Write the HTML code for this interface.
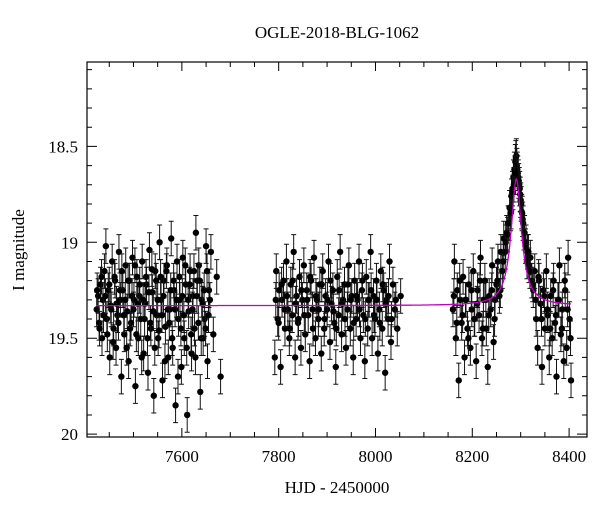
<!DOCTYPE html>
<html><head><meta charset="utf-8"><style>
html,body{margin:0;padding:0;background:#fff;}
svg text{font-family:"Liberation Serif",serif;fill:#000;}
</style></head><body>
<svg id="chart" width="600" height="512" viewBox="0 0 600 512" xmlns="http://www.w3.org/2000/svg">
<text x="337" y="38" font-size="17" text-anchor="middle">OGLE-2018-BLG-1062</text>
<text x="337" y="493" font-size="17" text-anchor="middle">HJD - 2450000</text>
<text transform="translate(24,250) rotate(-90)" font-size="17" text-anchor="middle">I magnitude</text>
<g id="marks"></g>
<rect x="87" y="62" width="500" height="375" fill="none" stroke="#000" stroke-width="1.2"/>
<g id="axes"></g>
</svg>
<script>
const xTicks=[7600,7800,8000,8200,8400];
const yTicks=[18.5,19,19.5,20];
const yTickLabels=["18.5","19","19.5","20"];
const season1T=[7424,7427,7429,7432,7435,7437,7440,7443,7445,7448,7451,7453,7456,7459,7462,7464,7467,7470,7473,7475,7478,7481,7484,7487,7490,7492,7495,7498,7501,7504,7507,7510,7512,7515,7518,7521,7524,7527,7530,7533,7536,7539,7542,7545,7548,7551,7554,7557,7560,7563,7566,7569,7572,7575,7578,7581,7584,7587,7590,7593,7596,7599,7602,7605,7608,7611,7614,7617,7620,7623,7626,7629,7632,7635,7638,7641,7644,7647,7650,7653,7656,7660,7665,7672,7680];
const season1M=[19.35,19.28,19.42,19.22,19.5,19.3,19.15,19.02,19.4,19.25,19.6,19.33,19.1,19.45,19.2,19.55,19.38,19.05,19.3,19.7,19.25,19.48,19.12,19.36,19.62,19.2,19.42,19.08,19.3,19.75,19.18,19.5,19.28,19.4,19.1,19.58,19.32,19.22,19.68,19.04,19.45,19.26,19.8,19.15,19.38,19.5,19.0,19.3,19.72,19.2,19.44,19.12,19.6,19.35,18.98,19.55,19.25,19.85,19.1,19.4,19.3,19.65,19.08,19.5,19.22,19.9,19.36,19.15,19.58,19.28,19.45,18.95,19.2,19.12,19.78,19.3,19.5,19.4,19.02,19.62,19.25,19.05,19.48,19.18,19.7];
const season1T2=[7425,7430,7434,7438,7442,7446,7450,7454,7458,7461,7465,7469,7472,7476,7480,7483,7486,7489,7493,7497,7500,7503,7506,7509,7513,7517,7520,7523,7526,7529,7532,7535,7538,7541,7544,7547,7550,7553,7556,7559,7562,7565,7568,7571,7574,7577,7580,7583,7586,7589,7592,7595,7598,7601,7604,7607,7610,7613,7616,7619,7622,7625,7628,7631,7634,7637,7640,7643,7646,7649,7652,7655,7658];
const season1M2=[19.25,19.45,19.18,19.38,19.28,19.48,19.22,19.35,19.52,19.18,19.32,19.42,19.25,19.15,19.38,19.3,19.55,19.2,19.45,19.28,19.35,19.12,19.48,19.32,19.22,19.6,19.3,19.4,19.18,19.5,19.26,19.42,19.14,19.36,19.55,19.2,19.3,19.46,19.18,19.38,19.28,19.62,19.15,19.35,19.42,19.25,19.5,19.2,19.35,19.3,19.7,19.18,19.45,19.28,19.38,19.12,19.55,19.3,19.22,19.48,19.35,19.15,19.6,19.28,19.42,19.2,19.5,19.32,19.25,19.45,19.15,19.38,19.3];
const season2T=[7792,7795,7798,7801,7804,7807,7810,7813,7816,7819,7822,7825,7828,7831,7834,7837,7840,7843,7846,7849,7852,7855,7858,7861,7864,7867,7870,7873,7876,7879,7882,7885,7888,7891,7894,7897,7900,7903,7906,7909,7912,7915,7918,7921,7924,7927,7930,7933,7936,7939,7942,7945,7948,7951,7954,7957,7960,7963,7966,7969,7972,7975,7978,7981,7984,7987,7990,7993,7996,7999,8002,8005,8008,8011,8014,8017,8020,8023,8026,8029,8032,8036,8040,8045,8052];
const season2M=[19.6,19.15,19.4,19.25,19.65,19.3,19.2,19.45,19.1,19.35,19.5,19.22,19.38,19.05,19.6,19.28,19.42,19.18,19.55,19.3,19.12,19.48,19.25,19.38,19.62,19.2,19.35,19.08,19.5,19.3,19.4,19.22,19.58,19.15,19.45,19.28,19.35,19.1,19.52,19.32,19.25,19.42,19.65,19.18,19.38,19.05,19.48,19.3,19.22,19.55,19.35,19.12,19.45,19.28,19.6,19.2,19.4,19.3,19.1,19.5,19.25,19.38,19.62,19.18,19.45,19.3,19.05,19.5,19.28,19.4,19.2,19.58,19.35,19.15,19.45,19.25,19.68,19.3,19.4,19.1,19.52,19.22,19.35,19.45,19.28];
const season2T2=[7794,7800,7806,7812,7817,7823,7829,7835,7841,7847,7853,7859,7865,7871,7877,7883,7889,7895,7901,7907,7913,7919,7925,7931,7937,7943,7949,7955,7961,7967,7973,7979,7985,7991,7997,8003,8009,8015,8021,8027,8033,8042];
const season2M2=[19.3,19.42,19.22,19.35,19.28,19.45,19.2,19.32,19.4,19.25,19.38,19.3,19.18,19.45,19.28,19.35,19.22,19.4,19.3,19.2,19.36,19.45,19.25,19.32,19.4,19.22,19.3,19.42,19.28,19.35,19.2,19.4,19.3,19.25,19.38,19.3,19.42,19.22,19.32,19.28,19.4,19.3];
const season3T=[8160,8163,8166,8169,8172,8175,8178,8181,8184,8187,8190,8193,8196,8199,8202,8205,8208,8211,8214,8217,8220,8223,8226,8229,8232,8235,8238,8241,8244,8247,8250,8253,8256,8259,8262,8265,8268,8271,8274,8277,8279,8281,8283,8285,8287,8289,8290,8291,8292,8293,8295,8297,8299,8301,8303,8305,8308,8311,8314,8317,8320,8323,8326,8329,8332,8335,8338,8341,8344,8347,8350,8353,8356,8359,8362,8365,8368,8371,8374,8377,8380,8383,8386,8389,8392,8395,8398,8401,8404];
const season3M=[19.35,19.1,19.5,19.25,19.72,19.3,19.42,19.18,19.6,19.3,19.45,19.22,19.55,19.35,19.15,19.4,19.62,19.25,19.38,19.08,19.5,19.3,19.2,19.45,19.65,19.28,19.35,19.12,19.52,19.3,19.22,19.1,19.28,19.05,19.15,18.98,19.05,18.95,18.9,18.82,18.85,18.76,18.72,18.66,18.62,18.58,18.56,18.55,18.6,18.62,18.66,18.7,18.75,18.8,18.85,18.9,18.95,19.0,19.05,19.12,19.08,19.2,19.25,19.15,19.4,19.55,19.2,19.32,19.65,19.25,19.45,19.15,19.38,19.6,19.28,19.5,19.2,19.42,19.7,19.3,19.12,19.48,19.35,19.62,19.25,19.55,19.08,19.4,19.72];
const season3T2=[8162,8168,8174,8180,8186,8192,8198,8204,8210,8216,8222,8228,8234,8240,8246,8252,8258,8264,8269,8273,8276,8280,8284,8286,8288,8294,8296,8298,8300,8302,8304,8307,8310,8313,8316,8319,8325,8331,8337,8343,8349,8355,8361,8367,8373,8379,8385,8391,8397,8403];
const season3M2=[19.28,19.42,19.2,19.38,19.3,19.5,19.25,19.4,19.32,19.2,19.45,19.3,19.38,19.25,19.4,19.2,19.25,19.1,19.0,18.96,18.9,18.84,18.74,18.7,18.64,18.64,18.68,18.72,18.78,18.84,18.88,18.95,19.02,19.1,19.05,19.15,19.22,19.3,19.18,19.4,19.28,19.35,19.45,19.25,19.38,19.3,19.45,19.2,19.35,19.5];
const errorSize=0.09;
const fitBase=19.33, fitPeakT=8291, fitPeakM=18.67, fitTE=13;

const X0=7404,X1=8437,Y0=18.06,Y1=20.015;
const L=87,R=587,T=62,B=437;
const xs=t=>L+(t-X0)/(X1-X0)*(R-L);
const ys=m=>T+(m-Y0)/(Y1-Y0)*(B-T);
const NS="http://www.w3.org/2000/svg";
const marks=document.getElementById('marks');
const axes=document.getElementById('axes');
function mk(tag,attrs,parent){const e=document.createElementNS(NS,tag);for(const k in attrs)e.setAttribute(k,attrs[k]);parent.appendChild(e);return e;}

function model(t){const u=(t-fitPeakT)/fitTE;return fitBase-(fitBase-fitPeakM)/(1+u*u);}
let d="";
for(let t=7424;t<=8404;t+=1){d+=(t===7424?"M":"L")+xs(t).toFixed(1)+","+ys(model(t)).toFixed(1);}
const fitLine=mk('path',{d:d,fill:'none',stroke:'#c000c0','stroke-width':1.3},marks);



function drawSeason(T_,M_,name){
  const g=mk('g',{},marks);
  
  
  for(let i=0;i<T_.length;i++){
    const x=xs(T_[i]),y=ys(M_[i]),e=Math.abs(ys(M_[i]+errorSize)-y);
    const eb=mk('path',{d:`M${x},${y-e}V${y+e}M${x-2.5},${y-e}H${x+2.5}M${x-2.5},${y+e}H${x+2.5}`,stroke:'#111','stroke-width':1},g);
    
    
    const c=mk('circle',{cx:x,cy:y,r:3.2,fill:'#000'},g);
    
    
  }
}
drawSeason(season1T,season1M,'season-2016-points');
drawSeason(season1T2,season1M2,'season-2016-points-b');
drawSeason(season2T,season2M,'season-2017-points');
drawSeason(season2T2,season2M2,'season-2017-points-b');
drawSeason(season3T,season3M,'season-2018-points');
drawSeason(season3T2,season3M2,'season-2018-points-b');
marks.appendChild(fitLine);

for(let v=7450;v<=8400;v+=50){
  const x=xs(v),maj=v%200===0,len=maj?9:5;
  const tk=mk('path',{d:`M${x},${B}V${B-len}M${x},${T}V${T+len}`,stroke:'#000','stroke-width':1},axes);
  
  
}
xTicks.forEach(v=>{
  const t=mk('text',{x:xs(v),y:B+25,'font-size':17,'text-anchor':'middle'},axes);
  t.textContent=String(v);
  
  
});
for(let k=181;k<=200;k++){
  const v=k/10,y=ys(v),maj=(k%5===0),len=maj?10:5;
  const tk=mk('path',{d:`M${L},${y}H${L+len}M${R},${y}H${R-len}`,stroke:'#000','stroke-width':1},axes);
  
  
}
yTicks.forEach((v,i)=>{
  const t=mk('text',{x:L-9,y:ys(v)+6,'font-size':17,'text-anchor':'end'},axes);
  t.textContent=yTickLabels[i];
  
  
});
</script>
</body></html>
